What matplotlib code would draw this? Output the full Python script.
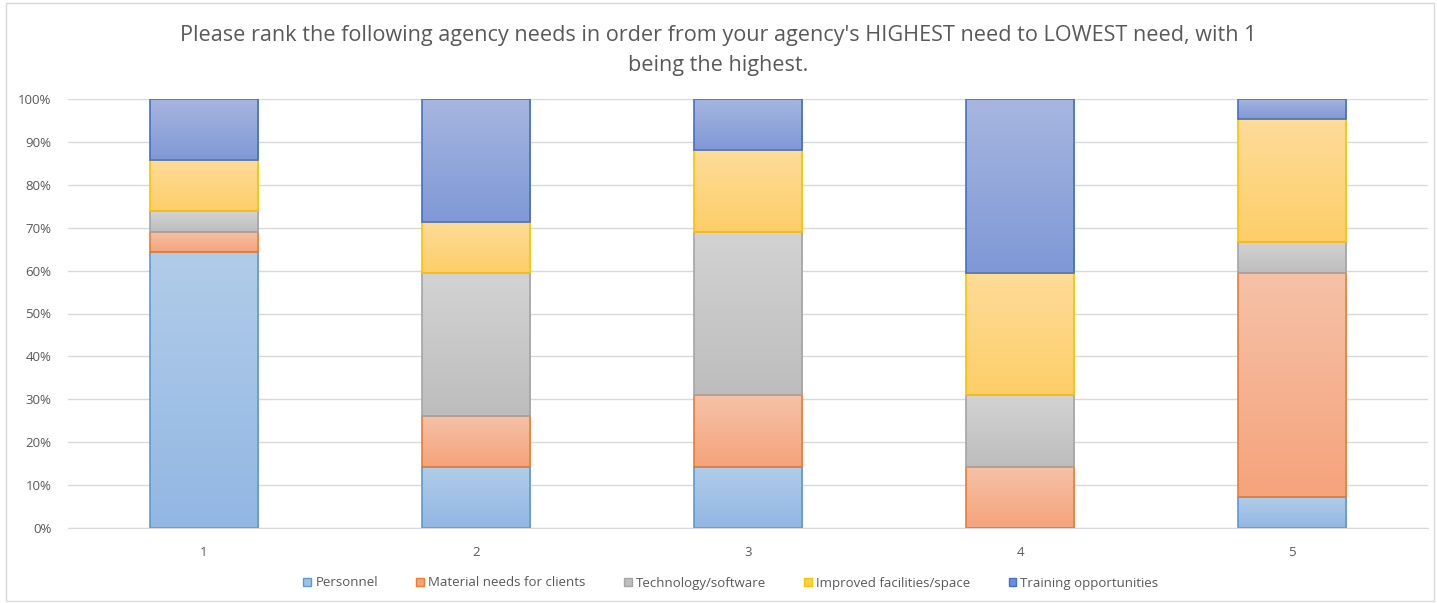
import matplotlib
matplotlib.use("Agg")
import matplotlib.pyplot as plt
import numpy as np
from matplotlib.patches import Rectangle
from matplotlib.colors import LinearSegmentedColormap

categories = ["1", "2", "3", "4", "5"]
series_names = ["Personnel", "Material needs for clients", "Technology/software",
                "Improved facilities/space", "Training opportunities"]
personnel = [64.29, 14.29, 14.29, 0.0, 7.14]
material = [4.76, 11.90, 16.67, 14.29, 52.38]
technology = [4.76, 33.33, 38.10, 16.67, 7.14]
facilities = [11.90, 11.90, 19.05, 28.57, 28.57]
training = [14.29, 28.57, 11.90, 40.48, 4.76]
yticks = [0, 10, 20, 30, 40, 50, 60, 70, 80, 90, 100]

series = [personnel, material, technology, facilities, training]
top_colors = ["#b1cce9", "#f6c2a8", "#d3d3d3", "#fedc9a", "#a7b6e0"]
bot_colors = ["#92b7e3", "#f5a37b", "#bdbdbd", "#fdce68", "#7f98d6"]
edge_colors = ["#5b9bd5", "#ed7d31", "#a5a5a5", "#ffc000", "#4472c4"]
legend_colors = ["#9dc3e6", "#f4a47c", "#bfbfbf", "#ffd24d", "#6f8fd4"]

W, H = 1437, 603
fig = plt.figure(figsize=(W / 100, H / 100), dpi=100)
ax = fig.add_axes([68 / W, 1 - 528 / H, 1360 / W, 429 / H])

fig.patches.append(Rectangle((6 / W, 2 / H), 1428 / W, 598 / H, transform=fig.transFigure,
                             fill=False, edgecolor="#d9d9d9", linewidth=1))

x = np.arange(len(categories))
width = 0.4
bottoms = np.zeros(len(categories))
grad = np.linspace(0, 1, 256).reshape(-1, 1)
for vals, tc, bc, ec, name in zip(series, top_colors, bot_colors, edge_colors, series_names):
    vals = np.array(vals)
    bars = ax.bar(x, vals, width, bottom=bottoms, color="none", edgecolor=ec,
                  linewidth=1.2, zorder=3, label=name)
    cmap = LinearSegmentedColormap.from_list(name, [bc, tc])
    for b in bars:
        h = b.get_height()
        if h <= 0:
            continue
        x0 = b.get_x()
        y0 = b.get_y()
        im = ax.imshow(grad, cmap=cmap, aspect="auto", origin="lower",
                       extent=[x0, x0 + b.get_width(), y0, y0 + h], zorder=2,
                       interpolation="bilinear")
        clip = Rectangle((x0, y0), b.get_width(), h, transform=ax.transData)
        im.set_clip_path(clip)
    bottoms += vals

ax.set_xlim(-0.5, len(categories) - 0.5)
ax.set_ylim(0, 100)
ax.set_yticks(yticks)
ax.set_yticklabels([f"{t}%" for t in yticks])
ax.set_xticks(x)
ax.set_xticklabels(categories)
ax.yaxis.grid(True, color="#d9d9d9", linewidth=1)
ax.set_axisbelow(True)
for s in ["top", "right", "left"]:
    ax.spines[s].set_visible(False)
ax.spines["bottom"].set_color("#d9d9d9")
ax.tick_params(axis="both", length=0, colors="#595959", labelsize=9.5)
ax.tick_params(axis="y", pad=12)
ax.tick_params(axis="x", pad=13)
for lab in ax.get_xticklabels() + ax.get_yticklabels():
    lab.set_fontfamily("Open Sans")

title_kw = dict(ha="center", va="center", fontsize=15.6, color="#595959", family="Open Sans")
fig.text(0.5, 1 - 36 / H, "Please rank the following agency needs in order from your agency's HIGHEST need to LOWEST need, with 1",
         **title_kw)
fig.text(0.5, 1 - 66 / H, "being the highest.", **title_kw)

handles = [Rectangle((0, 0), 1, 1, facecolor=lc, edgecolor=ec, linewidth=1)
           for lc, ec in zip(legend_colors, edge_colors)]
leg = fig.legend(handles, series_names, loc="center", bbox_to_anchor=(731 / W, 1 - 583 / H),
                 ncol=5, frameon=False, handlelength=0.6, handleheight=0.6,
                 handletextpad=0.3, columnspacing=2.9, prop={"family": "Open Sans", "size": 9.5})
for t in leg.get_texts():
    t.set_color("#595959")

fig.savefig("out.png", dpi=100)
